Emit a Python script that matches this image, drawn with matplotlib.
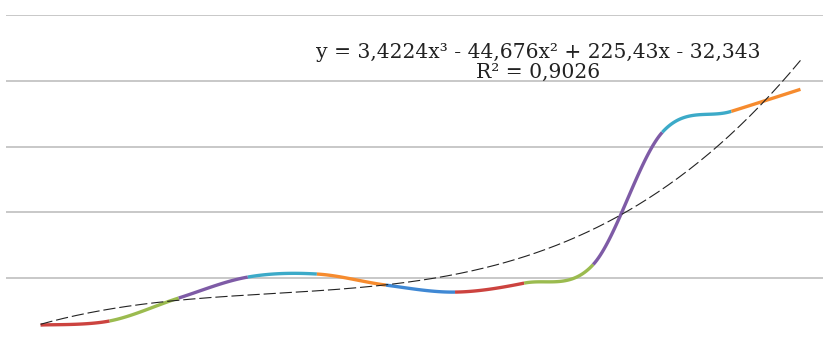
import numpy as np
import matplotlib
matplotlib.use("Agg")
import matplotlib.pyplot as plt

# series values, one per category 1..12
xs = [1, 2, 3, 4, 5, 6, 7, 8, 9, 10, 11, 12]
vals = [146, 177, 351, 510, 533, 449, 396, 464, 605, 1608, 1767, 1934]

# polynomial trendline (order 3) as reported on the chart
coef = [3.4224, -44.676, 225.43, -32.343]
eq_text = "y = 3,4224x³ - 44,676x² + 225,43x - 32,343"
r2_text = "R² = 0,9026"

# points colored in turn
palette = ["#3F88D4", "#CC433F", "#9BBB4F", "#7E5BA6", "#3CAAC8", "#F68B2E"]


def smooth_segment(p0, p1, p2, p3, n=40):
    # bezier between p1 and p2 with control points from the neighbours
    t = np.linspace(0, 1, n)[:, None]
    c1 = p1 + (p2 - p0) / 6.0
    c2 = p2 - (p3 - p1) / 6.0
    return ((1 - t) ** 3) * p1 + 3 * ((1 - t) ** 2) * t * c1 + 3 * (1 - t) * t ** 2 * c2 + t ** 3 * p2


W, H = 823, 341
fig = plt.figure(figsize=(W / 100, H / 100), dpi=100)
# plot area runs a little past the bottom and right of the image
left, right, top, bottom = 6, 835, 14.7, 344.3
ax = fig.add_axes([left / W, (H - bottom) / H, (right - left) / W, (bottom - top) / H])
ax.set_xlim(0.5, 12.5)
ax.set_ylim(0, 2500)

for g in [500, 1000, 1500, 2000, 2500]:
    ax.axhline(g, color="#c4c4c4", lw=1.3, zorder=1)

pts = np.column_stack([xs, vals]).astype(float)
n = len(pts)
for i in range(n - 1):
    p0 = pts[max(i - 1, 0)]
    p1 = pts[i]
    p2 = pts[i + 1]
    p3 = pts[min(i + 2, n - 1)]
    seg = smooth_segment(p0, p1, p2, p3)
    ax.plot(seg[:, 0], seg[:, 1], color=palette[(i + 1) % 6], lw=2.4,
            solid_capstyle="butt", zorder=3)

tx = np.linspace(xs[0], xs[-1], 300)
ty = np.polyval(coef, tx)
ax.plot(tx, ty, color="#222222", lw=0.8, dashes=(11, 3.5), zorder=4)

ax.text(538 / W, (H - 52) / H, eq_text, transform=fig.transFigure,
        ha="center", va="center", fontsize=14.6, family="DejaVu Serif", color="#222222")
ax.text(538 / W, (H - 72) / H, r2_text, transform=fig.transFigure,
        ha="center", va="center", fontsize=14.6, family="DejaVu Serif", color="#222222")

ax.set_xticks([])
ax.set_yticks([])
for s in ax.spines.values():
    s.set_visible(False)

fig.savefig("out.png", dpi=100)
